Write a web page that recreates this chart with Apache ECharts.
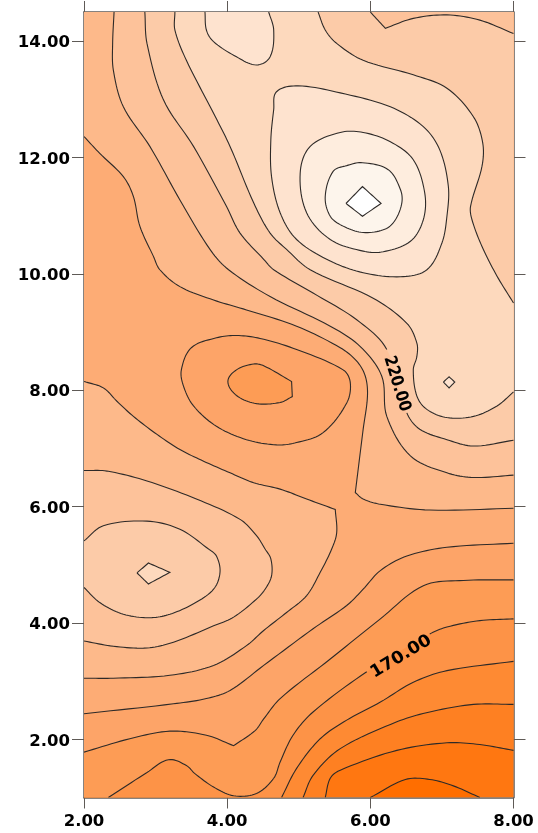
<!DOCTYPE html>
<html><head><meta charset="utf-8">
<style>html,body{margin:0;padding:0;background:#fff}#c{width:538px;height:833px}</style>
<script src="https://cdn.jsdelivr.net/npm/echarts@6/dist/echarts.min.js"></script>
</head><body><div id="c"></div>
<script>
const xTicks=[2,4,6,8];
const yTicks=[2,4,6,8,10,12,14];
const xMin=2,xMax=8,yMin=1,yMax=14.5;
// contour lines, in data units [x,y]; a repeated point is a sharp corner
const c130=[[6,1],[6.49,1.31],[6.83,1.31],[7.16,1.2],[7.53,1]];
const c140=[[8,1.81],[7.53,1.91],[7.07,1.94],[6.37,1.81],[5.58,1.47],[5.44,1.33],[5.37,1]];
const c150=[[8,2.6],[7.44,2.6],[6.83,2.47],[6.37,2.3],[5.58,1.84],[5.2,1.38],[5.06,1]];
const c160=[[8,3.34],[7.07,3.18],[6.6,2.98],[6.14,2.64],[5.67,2.33],[5.3,2.01],[4.97,1.5],[4.76,1]];
const c170=[[8,4.07],[7.53,4.04],[7.07,3.93],[6.83,3.81],[5.95,3.16],[5.2,2.47],[4.92,2.07],[4.74,1.61],[4.65,1.33],[4.41,1.07],[4.09,1.03],[3.81,1.18],[3.55,1.41],[3.43,1.55],[3.18,1.65],[2.88,1.43],[2.34,1]];
const c180=[[8,4.74],[7.3,4.73],[6.74,4.64],[6.14,4.07],[5.44,3.38],[4.74,2.7],[4.51,2.35],[4.39,2.15],[4.09,1.89],[4.09,1.89],[3.71,2.07],[3.2,2.14],[2.64,2.01],[2,1.78]];
const c190=[[8,5.37],[7.07,5.3],[6.51,5.15],[6.14,4.9],[5.9,4.58],[5.67,4.3],[5.2,3.9],[4.51,3.27],[4.04,2.84],[3.71,2.7],[3.25,2.61],[2,2.44]];
const c190peak=[[3.36,8.35],[3.5,8.73],[3.85,8.9],[4.13,8.94],[4.46,8.89],[4.97,8.7],[5.62,8.35],[5.72,8.13],[5.67,7.78],[5.34,7.27],[4.97,7.1],[4.69,7.06],[4.27,7.15],[3.85,7.38],[3.53,7.73],[3.39,8.07]];
const c180peak=[[4.01,8.15],[4.13,8.35],[4.37,8.45],[4.51,8.42],[4.9,8.15],[4.9,8.15],[4.91,7.89],[4.91,7.89],[4.74,7.79],[4.41,7.77],[4.13,7.91]];
const c200left=[[2,8.15],[2.27,8.04],[2.46,7.81],[2.69,7.55],[3.02,7.24],[3.34,6.98],[3.67,6.78],[4.04,6.58],[4.37,6.41],[4.74,6.3],[5.11,6.13],[5.51,5.95],[5.51,5.95],[5.53,5.55],[5.46,5.27],[5.3,4.87],[5.11,4.47],[4.83,4.18],[4.51,3.87],[4.27,3.61],[3.81,3.27],[3.2,3.1],[2.41,3.05],[2,3.05]];
const c200top=[[2,12.36],[2.22,12.07],[2.55,11.67],[2.69,11.33],[2.78,10.82],[2.97,10.3],[3.06,10.07],[3.34,9.78],[3.81,9.55],[4.27,9.38],[4.97,9.1],[5.58,8.73],[5.81,8.5],[5.93,8.24],[5.96,7.9],[5.9,7.33],[5.79,6.24],[5.79,6.24],[5.9,6.13],[6.14,6.04],[6.83,5.94],[8,5.97]];
const c210left=[[2,6.62],[2.32,6.61],[2.88,6.44],[3.57,6.13],[4.18,5.78],[4.41,5.5],[4.53,5.27],[4.61,5.1],[4.62,4.81],[4.53,4.58],[4.41,4.41],[4.09,4.1],[3.81,3.95],[3.25,3.67],[2.88,3.57],[2.41,3.6],[2,3.69]];
const c210top=[[2.42,14.5],[2.4,13.96],[2.41,13.5],[2.55,12.87],[2.92,12.19],[3.34,11.27],[3.76,10.42],[4.02,10.07],[4.6,9.61],[5.44,9.1],[5.86,8.75],[6.16,8.24],[6.23,7.55],[6.56,6.87],[7.07,6.58],[7.44,6.5],[8,6.54]];
const c220left=[[2,5.41],[2.27,5.67],[2.88,5.75],[3.34,5.61],[3.74,5.27],[3.85,5.15],[3.9,4.87],[3.81,4.58],[3.53,4.33],[3.2,4.15],[2.92,4.09],[2.55,4.15],[2.22,4.35],[2,4.61]];
const c220=[[2.85,14.5],[2.88,13.96],[3.11,12.99],[3.53,12.19],[3.99,11.16],[4.18,10.7],[4.51,10.25],[4.65,10.07],[5.2,9.67],[5.81,9.21],[6.23,8.7],[6.51,7.61],[6.69,7.33],[7.07,7.15],[7.44,7.04],[8,7.14]];
const c220corner=[[6,14.5],[6.21,14.22],[6.21,14.22],[6.6,14.39],[7.07,14.45],[7.53,14.36],[8,14.13]];
const c230left=[[2.74,4.86],[2.9,5.03],[3.2,4.87],[2.9,4.67]];
const c230a=[[3.27,14.5],[3.27,14.19],[3.43,13.67],[3.81,12.76],[4.04,12.19],[4.37,11.22],[4.6,10.7],[4.83,10.42],[5.16,10.07],[6.04,9.58],[6.51,9.15],[6.65,8.81],[6.65,8.58],[6.6,8.35],[6.65,7.9],[6.79,7.67],[7.07,7.53],[7.44,7.55],[7.77,7.73],[8,7.97]];
const c230b=[[8,9.5],[7.77,9.96],[7.56,10.47],[7.42,10.93],[7.4,11.16],[7.56,11.85],[7.57,12.25],[7.44,12.7],[7.07,13.19],[6.6,13.42],[5.9,13.67],[5.53,13.96],[5.37,14.19],[5.27,14.5]];
const c240top=[[3.69,14.5],[3.71,14.19],[3.81,13.99],[4.13,13.73],[4.41,13.59],[4.6,13.73],[4.65,14.19],[4.58,14.5]];
const c240=[[4.69,13.13],[4.99,13.23],[5.58,13.11],[6.28,12.87],[6.74,12.53],[6.97,12.13],[7.09,11.5],[7.07,10.99],[7,10.53],[6.79,10.07],[6.42,9.95],[5.9,10.02],[5.44,10.22],[4.97,10.59],[4.74,11.05],[4.62,11.67],[4.61,12.3],[4.65,12.82]];
const c240small=[[7.02,8.14],[7.1,8.23],[7.18,8.14],[7.1,8.04]];
const c250=[[5.02,11.73],[5.16,12.19],[5.58,12.43],[5.9,12.43],[6.28,12.27],[6.6,11.96],[6.76,11.39],[6.74,10.93],[6.56,10.56],[6.18,10.38],[5.9,10.39],[5.44,10.59],[5.11,11.05]];
const c260=[[5.37,11.33],[5.48,11.76],[5.67,11.86],[5.89,11.91],[6.25,11.79],[6.42,11.45],[6.44,11.22],[6.35,10.93],[6.21,10.77],[5.9,10.71],[5.62,10.82],[5.44,10.99]];
const c270=[[5.66,11.21],[5.89,11.5],[6.15,11.21],[5.89,10.99]];
const labelTexts=['170.00','220.00'];
const labelX=[6.43,6.37];
const labelY=[3.42,8.11];

const band={lt130:'#FF6E00',b130:'#FF7711',b140:'#FE8022',b150:'#FE8A33',b160:'#FD9347',b170:'#FD9C55',b180:'#FDA468',b190:'#FDAC75',b200:'#FDB98A',b210:'#FDC29A',b220:'#FCCBA8',b230:'#FDD9BD',b240:'#FEE3CF',b250:'#FEEDDE',b260:'#FDF5EC',b270:'#FFFFFF'};
const BL=[xMin,yMin],BR=[xMax,yMin],TL=[xMin,yMax],TR=[xMax,yMax];
const rev=a=>a.slice().reverse();
// painted from back to front: colour, contours, corners of the frame, closed?
const regions=[
 [band.b130,[],[BL,BR,TR,TL]],
 [band.lt130,[c130],[]],
 [band.b140,[c140],[BL,TL,TR]],
 [band.b150,[c150],[BL,TL,TR]],
 [band.b160,[c160],[BL,TL,TR]],
 [band.b170,[c170],[BL,TL,TR]],
 [band.b180,[c180],[TL,TR]],
 [band.b190,[c190],[TL,TR]],
 [band.b180,[c190peak],[],true],
 [band.b170,[c180peak],[],true],
 [band.b200,[c200left],[]],
 [band.b200,[c200top],[TR,TL]],
 [band.b210,[c210left],[]],
 [band.b210,[c210top],[TR]],
 [band.b220,[c220left],[]],
 [band.b220,[c220,rev(c220corner)],[]],
 [band.b230,[c230left],[],true],
 [band.b230,[c230a,c230b],[]],
 [band.b240,[c240top],[]],
 [band.b240,[c240],[],true],[band.b240,[c240small],[],true],
 [band.b250,[c250],[],true],[band.b260,[c260],[],true],[band.b270,[c270],[],true]
];
// contour, closed?, index of the segment left open for a label
const lines=[[c130],[c140],[c150],[c160],[c170,false,3],[c180],[c190],[c190peak,true],[c180peak,true],[c200left],[c200top],[c210left],[c210top],[c220left],[c220,false,10],[c220corner],[c230left,true],[c230a],[c230b],[c240top],[c240,true],[c240small,true],[c250,true],[c260,true],[c270,true]];

// draws a curve through the read points, in pixels; returns one polyline per segment
function curve(src,isClosed,api){
  const pts=[],kink=[];
  src.forEach((q,i)=>{const c=api.coord(q);
    if(i&&src[i-1][0]===q[0]&&src[i-1][1]===q[1]){kink[pts.length-1]=true;return;}
    pts.push(c);});
  const n=pts.length, straight=isClosed&&n<=4, segs=[];
  const at=i=>pts[(i+n)%n];
  const unit=(a,b)=>{const dx=b[0]-a[0],dy=b[1]-a[1],l=Math.hypot(dx,dy)||1;return [dx/l,dy/l];};
  const tan=(i,out)=>{
    const hasPrev=isClosed||i>0,hasNext=isClosed||i<n-1;
    if(straight||kink[i]||!hasPrev||!hasNext){
      if(out&&hasNext)return unit(at(i),at(i+1));
      return unit(at(i-1),at(i));}
    return unit(at(i-1),at(i+1));};
  const m=isClosed?n:n-1;
  for(let i=0;i<m;i++){
    const a=at(i),b=at(i+1),L=Math.hypot(b[0]-a[0],b[1]-a[1]);
    const t0=tan(i,true),t1=tan((i+1)%n,false);
    const c1=[a[0]+t0[0]*L/3,a[1]+t0[1]*L/3],c2=[b[0]-t1[0]*L/3,b[1]-t1[1]*L/3];
    const seg=[];
    for(let k=0;k<=10;k++){const t=k/10,u=1-t;
      seg.push([u*u*u*a[0]+3*u*u*t*c1[0]+3*u*t*t*c2[0]+t*t*t*b[0],
                u*u*u*a[1]+3*u*u*t*c1[1]+3*u*t*t*c2[1]+t*t*t*b[1]]);}
    segs.push(seg);
  }
  return segs;
}
const join=segs=>segs.reduce((o,s)=>o.concat(s),[]);

const FONT='"DejaVu Sans"';
const lineCol='#2e2a28', axisCol='#5f5a56';
const fmt=v=>Number(v).toFixed(2);
const series=[{
  type:'custom',coordinateSystem:'cartesian2d',silent:true,clip:true,z:1,
  data:regions.map((r,i)=>[i]),
  renderItem:(p,api)=>{const r=regions[api.value(0)];
    let pts=[];
    r[1].forEach(c=>{pts=pts.concat(join(curve(c,!!r[3],api)));});
    pts=pts.concat(r[2].map(q=>api.coord(q)));
    return {type:'polygon',shape:{points:pts},style:{fill:r[0],stroke:null}};}
},{
  type:'custom',coordinateSystem:'cartesian2d',silent:true,clip:true,z:3,
  data:lines.map((r,i)=>[i]),
  renderItem:(p,api)=>{const l=lines[api.value(0)];
    const segs=curve(l[0],!!l[1],api),gap=l[2];
    const parts=gap===undefined?[segs]:[segs.slice(0,gap),segs.slice(gap+1)];
    return {type:'group',children:parts.map(s=>({type:'polyline',shape:{points:join(s)},
      style:{fill:null,stroke:lineCol,lineWidth:1.1}}))};}
}];
const labelRot=[31,-73], labelScale=[1.04,0.87];
series.push({type:'custom',coordinateSystem:'cartesian2d',silent:true,z:5,
  data:labelTexts.map((t,i)=>[labelX[i],labelY[i],i]),
  renderItem:(p,api)=>{const c=api.coord([api.value(0),api.value(1)]),i=api.value(2);
    return {type:'text',x:c[0],y:c[1],rotation:labelRot[i]*Math.PI/180,scaleX:labelScale[i],
      style:{text:labelTexts[i],font:'bold 17px '+FONT,fill:'#000',textAlign:'center',textVerticalAlign:'middle'}};}
});
const tickStyle={show:true,length:11,lineStyle:{color:axisCol,width:1}};
const axisLine={show:true,onZero:false,lineStyle:{color:axisCol,width:1.5}};
const labelFont={fontFamily:FONT,fontWeight:'bold',fontSize:16.5,color:'#000'};
const chart=echarts.init(document.getElementById('c'),null,{renderer:'canvas'});
chart.setOption({
  animation:false,
  grid:{left:84,top:12,width:429.5,height:785.5,containLabel:false,show:false},
  xAxis:[
   {type:'value',position:'bottom',min:xMin,max:xMax,interval:2,splitLine:{show:false},axisLine,axisTick:tickStyle,
    axisLabel:Object.assign({formatter:fmt,margin:16,showMinLabel:true,showMaxLabel:true},labelFont)},
   {type:'value',position:'top',min:xMin,max:xMax,interval:2,splitLine:{show:false},axisLine,axisTick:tickStyle,axisLabel:{show:false}}
  ],
  yAxis:[
   {type:'value',position:'left',min:yMin,max:yMax,splitLine:{show:false},axisLine,
    axisTick:Object.assign({},tickStyle,{length:12,customValues:yTicks}),
    axisLabel:Object.assign({customValues:yTicks,formatter:fmt,margin:14,verticalAlign:'top',lineHeight:4},labelFont)},
   {type:'value',position:'right',min:yMin,max:yMax,splitLine:{show:false},axisLine,
    axisTick:Object.assign({},tickStyle,{length:12,customValues:yTicks}),axisLabel:{show:false}}
  ],
  series
});
</script></body></html>
